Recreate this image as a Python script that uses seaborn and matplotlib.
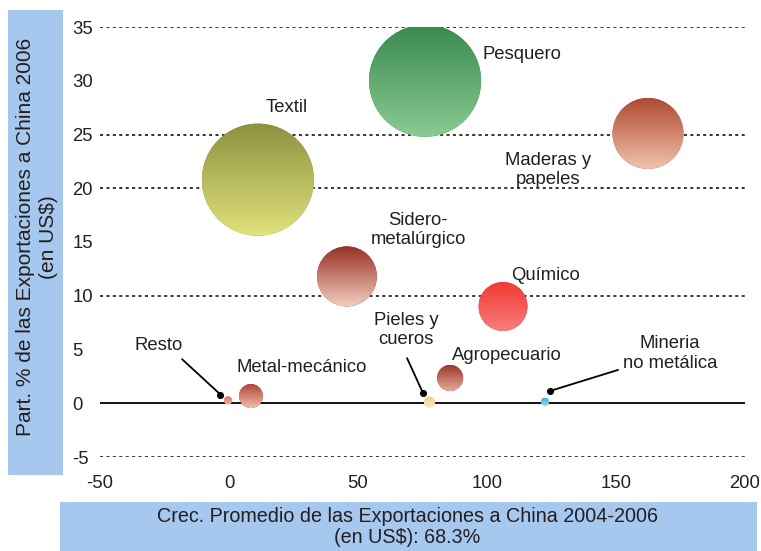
import numpy as np
import pandas as pd
import seaborn as sns
import matplotlib
matplotlib.use("Agg")
import matplotlib.pyplot as plt
from matplotlib.patches import Circle, Rectangle
from matplotlib.colors import to_rgb
from matplotlib.transforms import IdentityTransform

# ---------------- data ----------------
sectors = ["Pesquero", "Textil", "Maderas y papeles", "Sidero-metalúrgico", "Químico",
           "Agropecuario", "Metal-mecánico", "Pieles y cueros", "Mineria no metálica", "Resto"]
growth = [76.0, 11.2, 162.4, 45.7, 106.2, 85.7, 8.5, 77.7, 122.5, -0.4]     # % crecimiento
share = [30.0, 20.8, 25.1, 11.8, 9.0, 2.35, 0.67, 0.10, 0.15, 0.26]         # % participación
volume = [31.4, 31.4, 12.6, 9.0, 6.0, 1.7, 1.44, 0.30, 0.16, 0.16]          # tamaño relativo

x_ticks = [-50, 0, 50, 100, 150, 200]
x_tick_labels = ["-50", "0", "50", "100", "150", "200"]
y_ticks = [-5, 0, 5, 10, 15, 20, 25, 30, 35]
y_tick_labels = ["-5", "0", "5", "10", "15", "20", "25", "30", "35"]
dotted_levels = [35, 25, 20, 10, -5]

# pointer dots for small sectors
pointer_names = ["Resto", "Pieles y cueros", "Mineria no metálica"]
pointer_x = [-3.3, 75.2, 124.4]
pointer_y = [0.81, 0.95, 1.14]

# ---------------- styles ----------------
top_colors = ["#3a8a4e", "#8e9140", "#b04a32", "#962d22", "#f03a35",
              "#983228", "#b04637", "#f5cc90", "#4aaee0", "#e07060"]
bottom_colors = ["#8acb93", "#e0e27c", "#f2c2ac", "#f2cbbf", "#f67e7b",
                 "#e6aa96", "#f0bca8", "#fde8c8", "#a2d6f0", "#f0b0a0"]

label_text = {
    "Pesquero": ("Pesquero", 98.4, 32.4, "left"),
    "Textil": ("Textil", 22.5, 27.5, "center"),
    "Maderas y papeles": ("Maderas y\npapeles", 123.6, 21.7, "center"),
    "Sidero-metalúrgico": ("Sidero-\nmetalúrgico", 73.3, 16.1, "center"),
    "Químico": ("Químico", 122.5, 11.9, "center"),
    "Pieles y cueros": ("Pieles y\ncueros", 68.6, 6.8, "center"),
    "Agropecuario": ("Agropecuario", 107.8, 4.4, "center"),
    "Mineria no metálica": ("Mineria\nno metálica", 170.9, 4.6, "center"),
    "Resto": ("Resto", -27.1, 5.4, "center"),
    "Metal-mecánico": ("Metal-mecánico", 28.3, 3.3, "center"),
}
leader_start = {"Resto": (-18.2, 4.1), "Pieles y cueros": (69.0, 4.2),
                "Mineria no metálica": (150.8, 3.1)}

sns.set_theme(style="white")
plt.rcParams['font.family'] = ['Liberation Sans', 'DejaVu Sans']
FS = 13.3
TXT = "#231f20"

W, H, DPI = 761, 551, 100
fig = plt.figure(figsize=(W / DPI, H / DPI), dpi=DPI)
fig.patch.set_facecolor("white")
ax = fig.add_axes([100 / W, 94 / H, 645 / W, 430 / H])
ax.set_xlim(-50, 200)
ax.set_ylim(-5, 35)
ax.set_autoscale_on(False)
for s in ax.spines.values():
    s.set_visible(False)

# grid lines
for lv in dotted_levels:
    ax.axhline(lv, color="black", lw=1.1, ls=(0, (2.0, 2.2)), zorder=1)
ax.axhline(0, color="black", lw=1.3, zorder=1)

# bubbles
df = pd.DataFrame({"sector": sectors, "growth": growth, "share": share, "volume": volume})
k = 207.36
vmin, vmax = min(volume), max(volume)
sns.scatterplot(data=df, x="growth", y="share", size="volume", hue="sector",
                palette=top_colors, sizes=(k * vmin, k * vmax), size_norm=(vmin, vmax),
                legend=False, linewidth=0, ax=ax, zorder=3)
coll = ax.collections[-1]
sizes = coll.get_sizes()
if len(sizes) == 1:
    sizes = np.repeat(sizes, len(df))

# gradient fill clipped to each bubble
inv = ax.transData.inverted()
for i in range(len(df)):
    cx, cy = ax.transData.transform((growth[i], share[i]))
    r = np.sqrt(sizes[i]) / 2 * DPI / 72
    t = np.array(to_rgb(top_colors[i]))
    b = np.array(to_rgb(bottom_colors[i]))
    n = 64
    f = np.linspace(0, 1, n)[:, None]
    grad = (t[None, :] * (1 - f) + b[None, :] * f)[:, None, :]
    x0, y0 = inv.transform((cx - r, cy - r))
    x1, y1 = inv.transform((cx + r, cy + r))
    im = ax.imshow(grad, extent=(x0, x1, y0, y1), origin="upper", aspect="auto",
                   zorder=4, interpolation="bilinear")
    clip = Circle((cx, cy), r, transform=IdentityTransform())
    im.set_clip_path(clip)
ax.set_xlim(-50, 200)
ax.set_ylim(-5, 35)

# pointer dots and leader lines
sns.scatterplot(x=pointer_x, y=pointer_y, color="black", s=26, linewidth=0, ax=ax, zorder=6)
for name, px, py in zip(pointer_names, pointer_x, pointer_y):
    sx, sy = leader_start[name]
    ax.plot([sx, px], [sy, py], color="black", lw=1.3, zorder=5)

# labels
for name in sectors:
    txt, tx, ty, ha = label_text[name]
    ax.text(tx, ty, txt, ha=ha, va="center", fontsize=FS, color=TXT,
            linespacing=1.2, multialignment="center", zorder=7)

# ticks
ax.set_xticks(x_ticks)
ax.set_xticklabels(x_tick_labels)
ax.set_yticks(y_ticks)
ax.set_yticklabels(y_tick_labels)
ax.tick_params(axis="both", length=0, labelsize=FS, colors=TXT)
ax.tick_params(axis="y", pad=20)
ax.tick_params(axis="x", pad=13)
for lab in ax.get_yticklabels():
    lab.set_horizontalalignment("left")
ax.set_xlabel("")
ax.set_ylabel("")
ax.grid(False)

# axis title boxes
box_color = "#a6c8ef"
fig.patches.append(Rectangle((8, H - 475), 55, 465, transform=IdentityTransform(),
                             facecolor=box_color, edgecolor="none", zorder=0, figure=fig))
fig.patches.append(Rectangle((60, 0), 697, 49, transform=IdentityTransform(),
                             facecolor=box_color, edgecolor="none", zorder=0, figure=fig))
fig.text(37 / W, (H - 237) / H, "Part. % de las Exportaciones a China 2006\n(en US\\$)",
         rotation=90, ha="center", va="center", multialignment="center",
         fontsize=15, color=TXT, linespacing=1.25)
fig.text(407 / W, 24 / H, "Crec. Promedio de las Exportaciones a China 2004-2006\n(en US\\$): 68.3%",
         ha="center", va="center", multialignment="center",
         fontsize=14.2, color=TXT, linespacing=1.1)

fig.savefig("out.png", dpi=DPI)
